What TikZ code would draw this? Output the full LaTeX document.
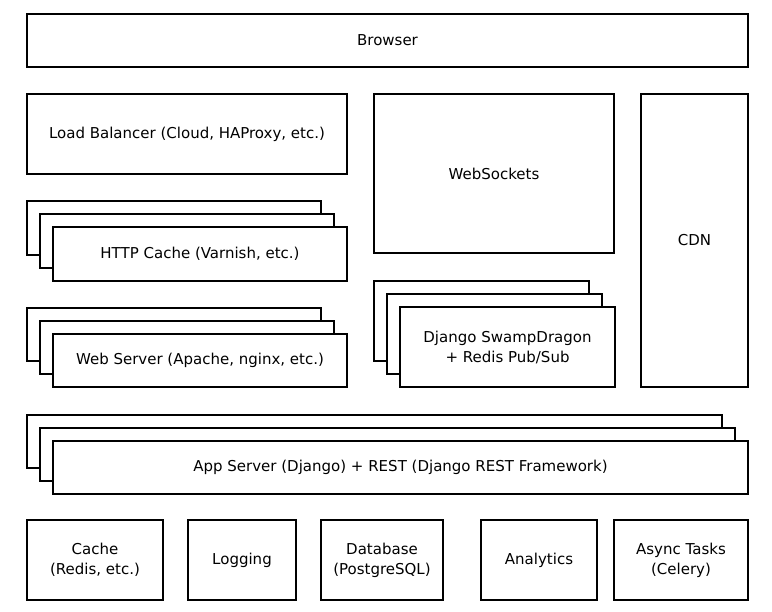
\documentclass[tikz,border=0pt]{standalone}
\usepackage{fontspec}
\setmainfont{DejaVu Sans}
\usetikzlibrary{shadows}

\begin{document}
\begin{tikzpicture}[
    x=1pt, y=-1pt,
    every node/.style = {draw, rectangle, line width=1.6pt, fill=white,
      align=center, inner sep=0pt, font=\fontsize{15}{20}\selectfont},
    stack/.style = {
      copy shadow={shadow xshift=-26pt, shadow yshift=26pt, line width=1.6pt},
      copy shadow={shadow xshift=-13pt, shadow yshift=13pt, line width=1.6pt}}
  ]
  \useasboundingbox (0,0) rectangle (772,612);

  % top layers
  \node[minimum width=721pt, minimum height=53pt] (browser) at (387.5,40.5) {Browser};
  \node[minimum width=320pt, minimum height=80pt] (lb) at (187,134) {Load Balancer (Cloud, HAProxy, etc.)};
  \node[minimum width=240pt, minimum height=159pt] (ws) at (494,173.5) {WebSockets};
  \node[minimum width=107pt, minimum height=293pt] (cdn) at (694.5,240.5) {CDN};

  % stacked servers
  \node[stack, minimum width=294pt, minimum height=54pt] (http) at (200,254) {HTTP Cache (Varnish, etc.)};
  \node[stack, minimum width=294pt, minimum height=53pt] (web) at (200,360.5) {Web Server (Apache, nginx, etc.)};
  \node[stack, minimum width=215pt, minimum height=80pt] (swamp) at (507.5,347) {Django SwampDragon\\+ Redis Pub/Sub};
  \node[stack, minimum width=695pt, minimum height=53pt] (app) at (400.5,467.5) {App Server (Django) + REST (Django REST Framework)};

  % backends
  \node[minimum width=136pt, minimum height=80pt] (cache) at (95,560) {Cache\\(Redis, etc.)};
  \node[minimum width=108pt, minimum height=80pt] (logging) at (242,560) {Logging};
  \node[minimum width=122pt, minimum height=80pt] (db) at (382,560) {Database\\(PostgreSQL)};
  \node[minimum width=116pt, minimum height=80pt] (analytics) at (539,560) {Analytics};
  \node[minimum width=134pt, minimum height=80pt] (async) at (681,560) {Async Tasks\\(Celery)};
\end{tikzpicture}
\end{document}
